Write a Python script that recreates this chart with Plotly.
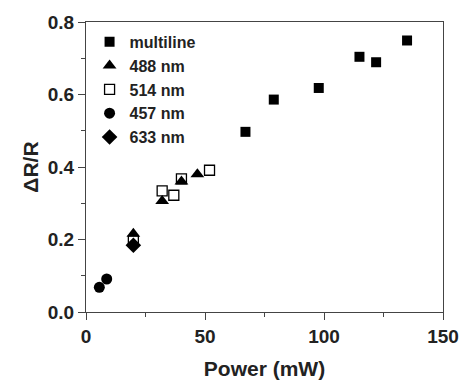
import plotly.graph_objects as go

multi_x = [67.0, 78.9, 97.8, 114.9, 121.9, 134.9]
multi_y = [0.497, 0.586, 0.618, 0.704, 0.689, 0.749]
n488_x = [19.9, 32.0, 40.1, 46.8]
n488_y = [0.216, 0.306, 0.360, 0.380]
n514_x = [19.9, 32.0, 36.9, 40.1, 51.9]
n514_y = [0.196, 0.334, 0.322, 0.367, 0.391]
n457_x = [5.6, 8.7]
n457_y = [0.068, 0.091]
n633_x = [19.9]
n633_y = [0.184]

FONT = "Liberation Sans, Arial, sans-serif"
fig = go.Figure()
series = [
    ("multiline", multi_x, multi_y, "square", 10, 0),
    ("488 nm", n488_x, n488_y, "triangle-up", 12, 0),
    ("514 nm", n514_x, n514_y, "square-open", 10, 1.3),
    ("457 nm", n457_x, n457_y, "circle", 11, 0),
    ("633 nm", n633_x, n633_y, "diamond", 12, 0),
]
for name, xs, ys, sym, sz, lw in series:
    fig.add_trace(go.Scatter(
        x=xs, y=ys, mode="markers", name="<b>" + name + "</b>",
        marker=dict(symbol=sym, size=sz, color="black", line=dict(width=lw, color="black")),
    ))

axis_common = dict(
    showline=True, linecolor="#444", linewidth=1.3, mirror=True,
    ticks="outside", ticklen=7, tickwidth=1.2, tickcolor="#444",
    showgrid=False, zeroline=False, automargin=False,
    tickfont=dict(family=FONT, size=19, color="#222"),
)
fig.update_layout(
    width=462, height=380,
    margin=dict(l=86, r=19, t=22, b=68),
    paper_bgcolor="white", plot_bgcolor="white",
    font=dict(family=FONT, color="#222"),
    xaxis=dict(range=[0, 150], tickvals=[0, 50, 100, 150], ticktext=["<b>0</b>", "<b>50</b>", "<b>100</b>", "<b>150</b>"],
               minor=dict(tickvals=[25, 75, 125], ticks="outside", ticklen=4, tickcolor="#444"),
               title=dict(text="<b>Power (mW)</b>", font=dict(family=FONT, size=21), standoff=17),
               **axis_common),
    yaxis=dict(range=[0, 0.8], tickvals=[0, 0.2, 0.4, 0.6, 0.8],
               ticktext=["<b>0.0</b>", "<b>0.2</b>", "<b>0.4</b>", "<b>0.6</b>", "<b>0.8</b>"],
               minor=dict(tickvals=[0.1, 0.3, 0.5, 0.7], ticks="outside", ticklen=4, tickcolor="#444"),
               title=dict(text="<b>ΔR/R</b>", font=dict(family=FONT, size=21), standoff=3),
               **axis_common),
    legend=dict(x=0.01, y=0.99, xanchor="left", yanchor="top", bgcolor="rgba(0,0,0,0)",
                font=dict(family=FONT, size=16, color="#222"),
                itemwidth=30, tracegroupgap=0),
    showlegend=True,
)
fig.write_html("out.html")
